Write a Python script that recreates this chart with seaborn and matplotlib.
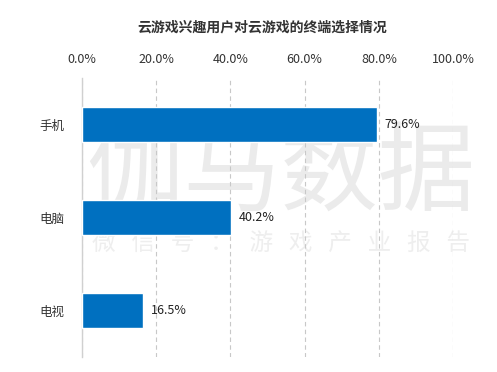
import matplotlib
matplotlib.use("Agg")
import matplotlib.pyplot as plt
import seaborn as sns
import pandas as pd
from matplotlib.ticker import FuncFormatter

# data
devices = ["手机", "电脑", "电视"]
shares = [79.6, 40.2, 16.5]
xticks = [0, 20, 40, 60, 80, 100]

df = pd.DataFrame({"device": devices, "share": shares})

sns.set_style("white")
plt.rcParams["font.family"] = ["Noto Sans CJK SC", "DejaVu Sans"]

fig = plt.figure(figsize=(4.97, 3.72), dpi=100)
ax = fig.add_axes([0.165, 0.04, 0.7465, 0.75])

# watermark, kept under bars and grid
ax.text(0.565, 0.53, "伽马数据", transform=fig.transFigure, ha="center", va="center",
        fontsize=70, fontweight="light", color="#ebebeb", zorder=0.2)
ax.text(0.565, 0.345, "微   信   号   ：   游   戏   产   业   报   告", transform=fig.transFigure,
        ha="center", va="center", fontsize=17, fontweight="light", color="#eeeeee", zorder=0.2)

sns.barplot(data=df, x="share", y="device", color="#0070C0", width=0.37,
            saturation=1, ax=ax, zorder=3)

ax.set_xlim(0, 100)
ax.set_ylim(2.5, -0.5)
ax.set_xticks(xticks)
ax.xaxis.set_major_formatter(FuncFormatter(lambda v, p: f"{v:.1f}%"))
ax.xaxis.tick_top()
ax.tick_params(axis="x", length=0, pad=9, labelsize=9, colors="#333333")
ax.tick_params(axis="y", length=0, pad=13, labelsize=9, colors="#333333")
ax.set_xlabel("")
ax.set_ylabel("")
ax.grid(axis="x", linestyle=(0, (4, 3)), color="#c8c8c8", linewidth=0.8, zorder=1)
for s in ["top", "right", "bottom"]:
    ax.spines[s].set_visible(False)
ax.spines["left"].set_color("#d0d0d0")
ax.spines["left"].set_linewidth(1.0)

for i, v in enumerate(shares):
    ax.text(v + 2, i, f"{v}%", va="center", ha="left", fontsize=9, color="#222222", zorder=4)

fig.suptitle("云游戏兴趣用户对云游戏的终端选择情况", x=0.528, y=0.945,
             fontsize=10, fontweight="bold", color="#333333")

fig.savefig("out.png", dpi=100)
